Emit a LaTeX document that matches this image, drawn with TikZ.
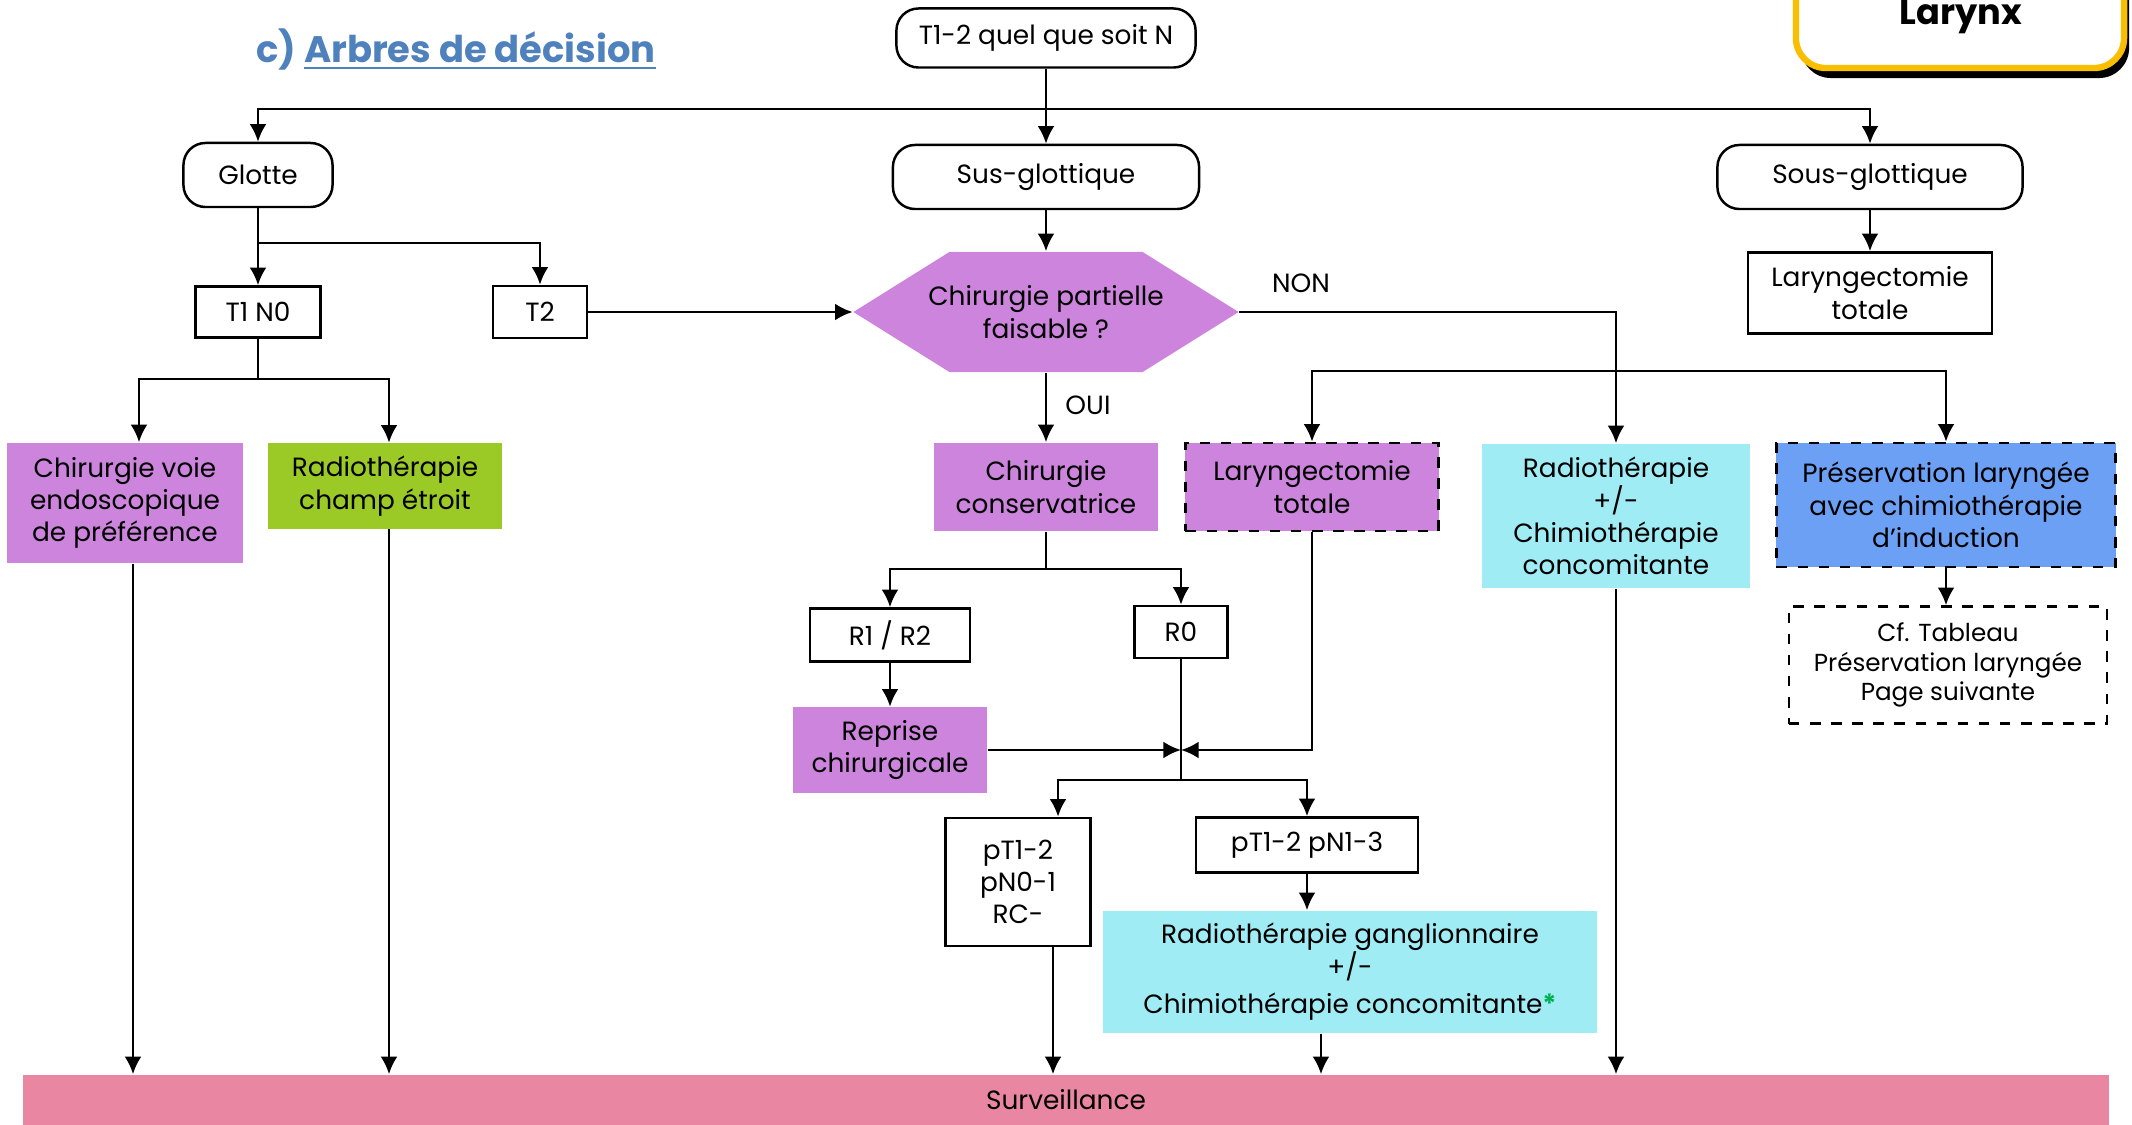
\documentclass[tikz,border=0pt]{standalone}
\usepackage{fontspec}
\setmainfont{Poppins}
\usepackage{tikz}
\usetikzlibrary{calc}
\usetikzlibrary{positioning}
\usetikzlibrary{shapes}
\usetikzlibrary{arrows.meta}
\usetikzlibrary{shadows}

\definecolor{violetfill}{RGB}{204,132,221}
\definecolor{vertfill}{RGB}{155,201,38}
\definecolor{cyanfill}{RGB}{160,236,245}
\definecolor{bleufill}{RGB}{108,160,245}
\definecolor{rosefill}{RGB}{233,135,162}
\definecolor{titrebleu}{RGB}{79,129,189}
\definecolor{cadrejaune}{RGB}{250,190,0}
\definecolor{vertast}{RGB}{0,176,80}

\newcommand{\petit}{\fontsize{7.5}{9.2}\selectfont}

\begin{document}
\begin{tikzpicture}[x=0.01cm, y=-0.01cm, font=\petit,
	box/.style={draw, line width=0.7pt, align=center, inner sep=0pt},
	rbox/.style={box, rounded corners=2.2mm},
	plein/.style={align=center, inner sep=0pt},
	tiret/.style={draw, dashed, line width=0.7pt},
	hexa/.style={align=center, inner sep=0pt, minimum width=3.85cm, minimum height=1.2cm,
		path picture={\fill[violetfill] (path picture bounding box.west)
			-- ([xshift=0.96cm]path picture bounding box.north west)
			-- ([xshift=-0.96cm]path picture bounding box.north east)
			-- (path picture bounding box.east)
			-- ([xshift=-0.96cm]path picture bounding box.south east)
			-- ([xshift=0.96cm]path picture bounding box.south west) -- cycle;}},
	arr/.style={line width=0.8pt, -{Latex[length=5pt,width=4.8pt]}},
	ln/.style={line width=0.8pt}]
	
	\useasboundingbox (0,0) rectangle (2132,1125);
	\clip (0,0) rectangle (2132,1125);
	
	% titre et cadre
	\node[text=titrebleu, font=\bfseries\fontsize{10.5}{12}\selectfont] (titre) at (456,50) {c) \underline{Arbres de décision}};
	\node[draw=cadrejaune, line width=1.8pt, fill=white, rounded corners=3mm, minimum width=3.28cm, minimum height=1.08cm,
		drop shadow={shadow xshift=0.05cm, shadow yshift=-0.1cm, opacity=1, fill=black}] (cadre) at (1960,14) {};
	\node[font=\bfseries\fontsize{10}{12}\selectfont] (larynx) at (1961,17) {Larynx};
	
	% boites
	\node[rbox, minimum width=2.99cm, minimum height=0.59cm] (top) at (1046,38) {T1-2 quel que soit N};
	\node[rbox, minimum width=1.49cm, minimum height=0.64cm] (glotte) at (258,175) {Glotte};
	\node[rbox, minimum width=3.06cm, minimum height=0.64cm] (sus) at (1046,177) {Sus-glottique};
	\node[rbox, minimum width=3.05cm, minimum height=0.64cm] (sous) at (1870,177) {Sous-glottique};
	\node[box, minimum width=2.44cm, minimum height=0.81cm] (ltdroite) at (1870,293) {Laryngectomie\\totale};
	
	\node[hexa] (faisable) at (1046,312) {Chirurgie partielle\\faisable ?};
	\node[box, minimum width=1.25cm, minimum height=0.51cm] (t1n0) at (258,312) {T1 N0};
	\node[box, minimum width=0.94cm, minimum height=0.52cm] (t2) at (540,312) {T2};
	
	\node[plein, fill=violetfill, minimum width=2.35cm, minimum height=1.2cm] (chirvoie) at (125,503) {Chirurgie voie\\endoscopique\\de préférence};
	\node[plein, fill=vertfill, minimum width=2.34cm, minimum height=0.85cm] (rtetroit) at (385,486) {Radiothérapie\\champ étroit};
	\node[plein, fill=violetfill, minimum width=2.24cm, minimum height=0.88cm] (chircons) at (1046,487) {Chirurgie\\conservatrice};
	\node[plein, tiret, fill=violetfill, minimum width=2.53cm, minimum height=0.88cm] (ltotale) at (1312,487) {Laryngectomie\\totale};
	\node[plein, fill=cyanfill, minimum width=2.68cm, minimum height=1.44cm] (rtchimio) at (1616,516) {Radiothérapie\\+/-\\Chimiothérapie\\concomitante};
	\node[plein, tiret, fill=bleufill, minimum width=3.39cm, minimum height=1.24cm] (preserv) at (1946,505) {Préservation laryngée\\avec chimiothérapie\\d’induction};
	\node[plein, tiret, minimum width=3.18cm, minimum height=1.17cm, font=\fontsize{7}{8.5}\selectfont] (cftab) at (1948,665) {Cf. Tableau\\Préservation laryngée\\Page suivante};
	
	\node[box, minimum width=1.6cm, minimum height=0.53cm] (r1r2) at (890,635) {R1 / R2};
	\node[box, minimum width=0.93cm, minimum height=0.52cm] (r0) at (1181,632) {R0};
	\node[plein, fill=violetfill, minimum width=1.94cm, minimum height=0.85cm] (reprise) at (890,750) {Reprise\\chirurgicale};
	\node[box, minimum width=1.45cm, minimum height=1.28cm] (pn01) at (1018,882) {pT1-2\\pN0-1\\RC-};
	\node[box, minimum width=2.22cm, minimum height=0.55cm] (pn13) at (1307,845) {pT1-2 pN1-3};
	\node[plein, fill=cyanfill, minimum width=4.93cm, minimum height=1.22cm] (gang) at (1350,972) {Radiothérapie ganglionnaire\\+/-\\[1.5pt]Chimiothérapie concomitante\textcolor{vertast}{\textbf{*}}};
	\node[plein, fill=rosefill, minimum width=20.84cm, minimum height=0.5cm] (surv) at (1066,1100) {Surveillance};
	
	\node (non) at (1301,283) {NON};
	\node (oui) at (1088,405) {OUI};
	
	% points de jonction
	\coordinate (j0) at (1046,109);
	\coordinate (j1) at (258,243);
	\coordinate (j2) at (258,379);
	\coordinate (j3) at (1616,371);
	\coordinate (j4) at (1046,569);
	\coordinate (j5) at (1181,780);
	\coordinate (jm) at (1181,750);
	
	% fleches
	\draw[arr] (top) -- (sus);
	\draw[arr] (j0) -| (glotte);
	\draw[arr] (j0) -| (sous);
	\draw[arr] (sous) -- (ltdroite);
	
	\draw[ln] (glotte) -- (j1);
	\draw[arr] (j1) -| (t1n0);
	\draw[arr] (j1) -| (t2);
	\draw[arr] (t2) -- (faisable);
	\draw[arr] (sus) -- (faisable);
	
	\draw[ln] (t1n0) -- (j2);
	\draw[arr] (j2) -| ([xshift=0.14cm]chirvoie.north);
	\draw[arr] (j2) -| ([xshift=0.04cm]rtetroit.north);
	
	\draw[arr] (faisable.east) -| (rtchimio);
	\draw[arr] (j3) -| (ltotale);
	\draw[arr] (j3) -| (preserv);
	\draw[arr] (preserv) -- (preserv |- cftab.north);
	\draw[arr] (faisable) -- (chircons);
	
	\draw[ln] (chircons) -- (j4);
	\draw[arr] (j4) -| (r1r2);
	\draw[arr] (j4) -| (r0);
	\draw[arr] (r1r2) -- (reprise);
	\draw[ln] (r0) -- (j5);
	\draw[arr] (reprise) -- (jm);
	\draw[arr] (ltotale) |- (jm);
	\draw[arr] (j5) -| ([xshift=0.4cm]pn01.north);
	\draw[arr] (j5) -| (pn13);
	\draw[arr] (pn13) -- (pn13 |- gang.north);
	
	% vers la surveillance
	\draw[arr] ([xshift=0.08cm]chirvoie.south) -- ([xshift=0.08cm]chirvoie.south |- surv.north);
	\draw[arr] ([xshift=0.04cm]rtetroit.south) -- ([xshift=0.04cm]rtetroit.south |- surv.north);
	\draw[arr] ([xshift=0.35cm]pn01.south) -- ([xshift=0.35cm]pn01.south |- surv.north);
	\draw[arr] ([xshift=-0.29cm]gang.south) -- ([xshift=-0.29cm]gang.south |- surv.north);
	\draw[arr] (rtchimio) -- (rtchimio |- surv.north);
	
\end{tikzpicture}
\end{document}
